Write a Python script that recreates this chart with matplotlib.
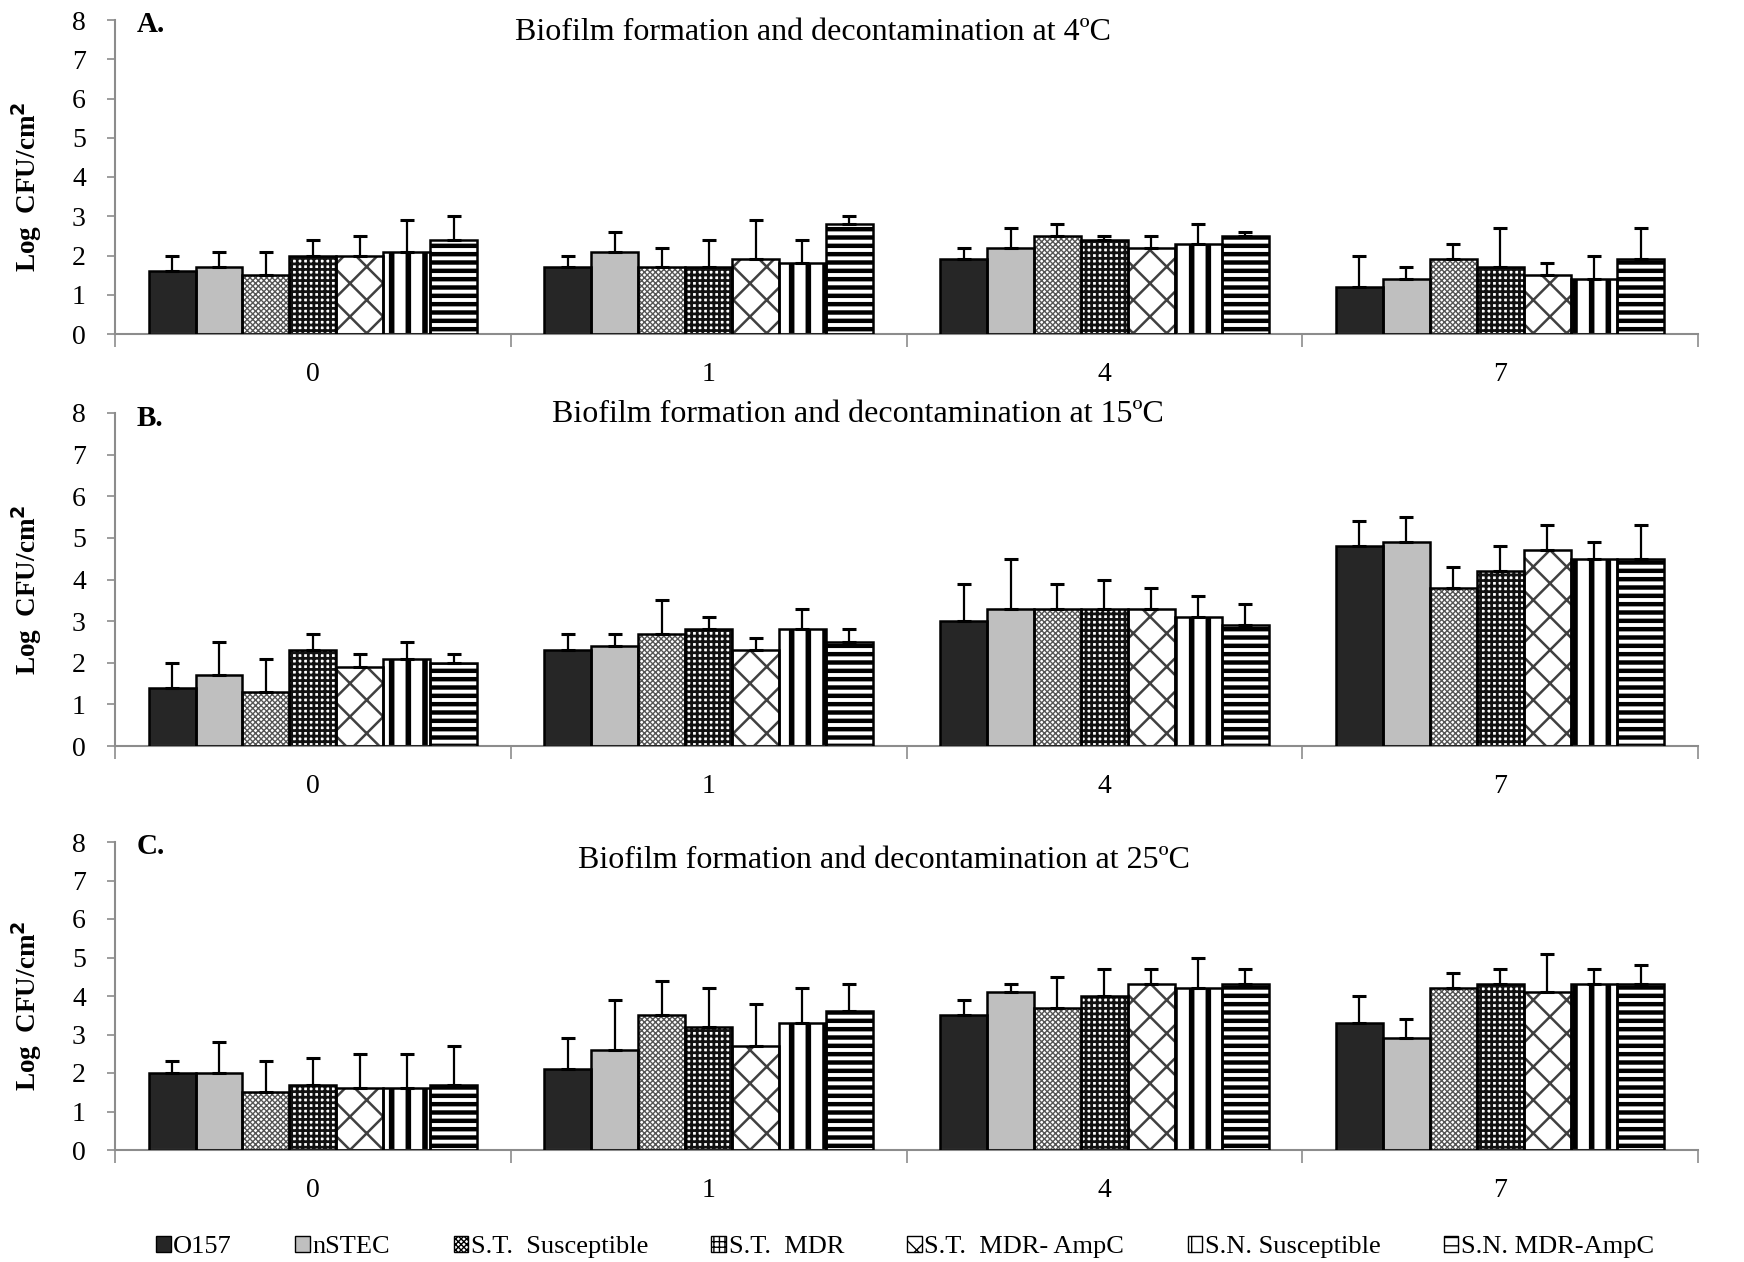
import numpy as np
import matplotlib
matplotlib.use("Agg")
import matplotlib.pyplot as plt
from matplotlib.patches import Patch

plt.rcParams['font.family'] = ['Liberation Serif', 'DejaVu Serif']

days = ['0', '1', '4', '7']
strains = ['O157', 'nSTEC', 'S.T.  Susceptible', 'S.T.  MDR',
           'S.T.  MDR- AmpC', 'S.N. Susceptible', 'S.N. MDR-AmpC']

# rows = day, cols = strain
mean_4 = [[1.6, 1.7, 1.5, 2.0, 2.0, 2.1, 2.4],
          [1.7, 2.1, 1.7, 1.7, 1.9, 1.8, 2.8],
          [1.9, 2.2, 2.5, 2.4, 2.2, 2.3, 2.5],
          [1.2, 1.4, 1.9, 1.7, 1.5, 1.4, 1.9]]
sd_4 = [[0.4, 0.4, 0.6, 0.4, 0.5, 0.8, 0.6],
        [0.3, 0.5, 0.5, 0.7, 1.0, 0.6, 0.2],
        [0.3, 0.5, 0.3, 0.1, 0.3, 0.5, 0.1],
        [0.8, 0.3, 0.4, 1.0, 0.3, 0.6, 0.8]]

mean_15 = [[1.4, 1.7, 1.3, 2.3, 1.9, 2.1, 2.0],
           [2.3, 2.4, 2.7, 2.8, 2.3, 2.8, 2.5],
           [3.0, 3.3, 3.3, 3.3, 3.3, 3.1, 2.9],
           [4.8, 4.9, 3.8, 4.2, 4.7, 4.5, 4.5]]
sd_15 = [[0.6, 0.8, 0.8, 0.4, 0.3, 0.4, 0.2],
         [0.4, 0.3, 0.8, 0.3, 0.3, 0.5, 0.3],
         [0.9, 1.2, 0.6, 0.7, 0.5, 0.5, 0.5],
         [0.6, 0.6, 0.5, 0.6, 0.6, 0.4, 0.8]]

mean_25 = [[2.0, 2.0, 1.5, 1.7, 1.6, 1.6, 1.7],
           [2.1, 2.6, 3.5, 3.2, 2.7, 3.3, 3.6],
           [3.5, 4.1, 3.7, 4.0, 4.3, 4.2, 4.3],
           [3.3, 2.9, 4.2, 4.3, 4.1, 4.3, 4.3]]
sd_25 = [[0.3, 0.8, 0.8, 0.7, 0.9, 0.9, 1.0],
         [0.8, 1.3, 0.9, 1.0, 1.1, 0.9, 0.7],
         [0.4, 0.2, 0.8, 0.7, 0.4, 0.8, 0.4],
         [0.7, 0.5, 0.4, 0.4, 1.0, 0.4, 0.5]]

# fill style per strain: (face, hatch, hatch colour, hatch linewidth)
styles = [('#262626', None, 'black', 1.0),
          ('#bfbfbf', None, 'black', 1.0),
          ('white', 'xxxxxx', '#555555', 1.0),
          ('white', '+++', '#111111', 2.0),
          ('white', 'x', '#404040', 1.8),
          ('white', '|', 'black', 4.0),
          ('white', '--', 'black', 3.2)]

fig = plt.figure(figsize=(17.44, 12.62), dpi=100)
W, H = 1744, 1262
# panel boxes in pixels: (top, bottom)
boxes = [(20, 334), (413, 746), (842, 1150)]
left, right = 115, 1698

panels = [(mean_4, sd_4, 'A.', 'Biofilm formation and decontamination at 4ºC', 813, 33),
          (mean_15, sd_15, 'B.', 'Biofilm formation and decontamination at 15ºC', 858, 415),
          (mean_25, sd_25, 'C.', 'Biofilm formation and decontamination at 25ºC', 884, 861)]

n = len(strains)
group = 0.83
bw = group / n
x = np.arange(len(days))

for (top, bot), (m, s, letter, title, tx, ty) in zip(boxes, panels):
    ax = fig.add_axes([left / W, 1 - bot / H, (right - left) / W, (bot - top) / H])
    m = np.array(m).T
    s = np.array(s).T
    for i in range(n):
        face, hatch, hc, hlw = styles[i]
        pos = x - group / 2 + bw * (i + 0.5)
        with plt.rc_context({'hatch.linewidth': hlw}):
            ax.bar(pos, m[i], bw, color=face, edgecolor=hc, hatch=hatch,
                   linewidth=0, zorder=2)
        ax.bar(pos, m[i], bw, fill=False, edgecolor='black', linewidth=1.8, zorder=3)
        ax.errorbar(pos, m[i], yerr=[np.zeros(len(days)), s[i]], fmt='none',
                    ecolor='black', elinewidth=1.6, capsize=5, capthick=2.2, zorder=4)
    ax.set_ylim(0, 8)
    ax.set_xlim(-0.5, 3.5)
    ax.set_yticks(range(9))
    ax.set_xticks(x)
    ax.set_xticklabels(days)
    ax.set_xticks(np.arange(-0.5, 4, 1), minor=True)
    ax.tick_params(axis='x', which='major', length=0, pad=20, labelsize=20)
    ax.tick_params(axis='x', which='minor', length=9, color='#8c8c8c', width=1.2)
    ax.tick_params(axis='y', length=6, color='#8c8c8c', width=1.2, labelsize=20, pad=15)
    for sp in ['top', 'right']:
        ax.spines[sp].set_visible(False)
    for sp in ['left', 'bottom']:
        ax.spines[sp].set_color('#8c8c8c')
        ax.spines[sp].set_linewidth(1.5)
    ax.set_ylabel('Log  CFU/cm$^\\mathbf{2}$', fontsize=19.5, fontweight='bold')
    ax.yaxis.set_label_coords(-0.045, 0.47)
    fig.text(tx / W, 1 - ty / H, title, fontsize=23, ha='center', va='center')
    fig.text(137 / W, 1 - (top + 5) / H, letter, fontsize=21, fontweight='bold',
             ha='left', va='center')

handles = []
for i in range(n):
    face, hatch, hc, hlw = styles[i]
    handles.append(Patch(facecolor=face, edgecolor='black', hatch=hatch, linewidth=1))
fig.legend(handles, strains, loc='center', bbox_to_anchor=(0.519, 1 - 1247 / H), ncol=7,
           frameon=False, fontsize=19, handlelength=0.55, handleheight=0.55,
           handletextpad=0.1, columnspacing=2.4)

fig.savefig('out.png', dpi=100)
